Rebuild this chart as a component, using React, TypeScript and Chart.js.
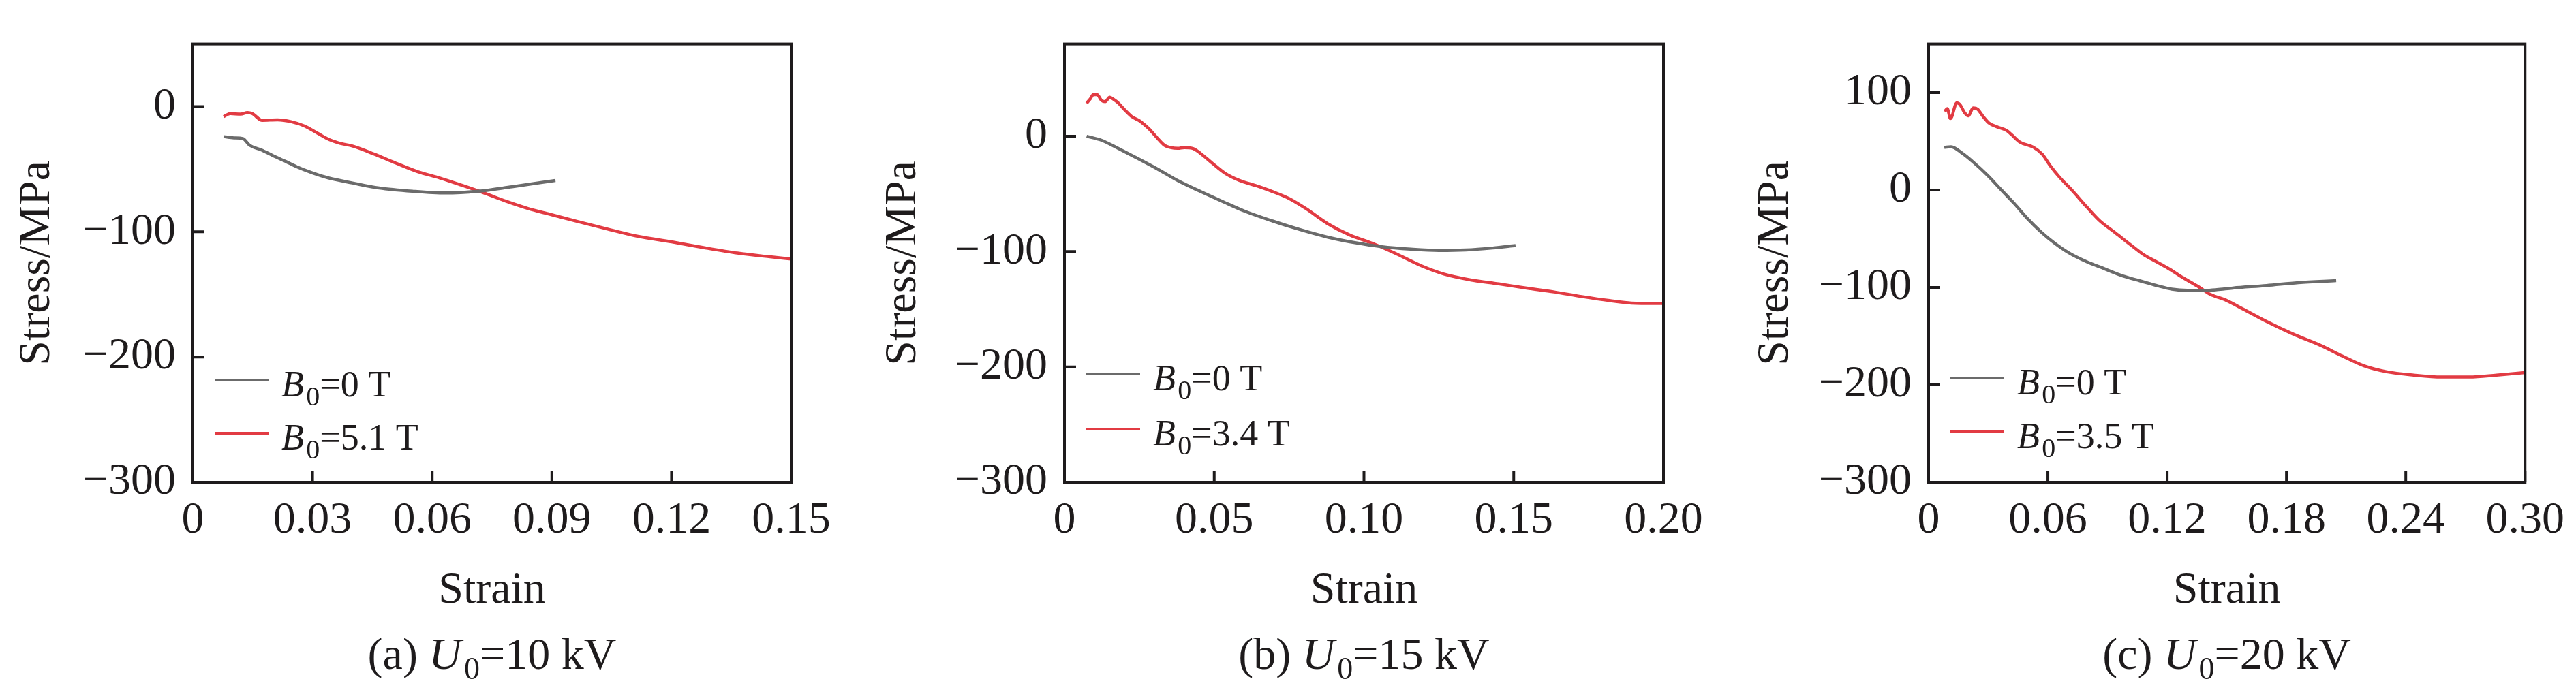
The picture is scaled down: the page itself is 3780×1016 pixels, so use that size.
import { useEffect, useRef } from 'react';
import { Chart, registerables } from 'chart.js';

Chart.register(...registerables);

// (a) U0 = 10 kV
const strainA0 = [0.0077, 0.0103, 0.0125, 0.0143, 0.0171, 0.02, 0.0234, 0.026, 0.03, 0.034, 0.04, 0.0467, 0.055, 0.0633, 0.0715, 0.08, 0.0909];
const stressA0 = [-24, -25, -25.5, -31, -34.5, -39, -44, -48, -53, -57, -61, -65, -67.6, -69, -67.6, -64, -59];
const strainA1 = [0.0077, 0.0094, 0.012, 0.0137, 0.0149, 0.0174, 0.0212, 0.0246, 0.028, 0.0314, 0.0342, 0.037, 0.04, 0.0453, 0.0508, 0.0564, 0.0619, 0.0674, 0.073, 0.0785, 0.084, 0.0895, 0.0964, 0.103, 0.1116, 0.12, 0.128, 0.1365, 0.1447, 0.15];
const stressA1 = [-8, -5.6, -6, -4.7, -5.6, -11, -10.6, -12, -15.5, -21.5, -26.4, -29.4, -31.5, -37.7, -45, -52, -57, -62.8, -69, -75.6, -81.4, -86, -91.7, -97, -103.6, -108, -112.6, -117, -120, -121.7];

// (b) U0 = 15 kV
const strainB0 = [0.0074, 0.0124, 0.0179, 0.0234, 0.0308, 0.038, 0.0455, 0.053, 0.06, 0.0695, 0.0787, 0.0879, 0.097, 0.106, 0.1156, 0.125, 0.134, 0.143, 0.1506];
const stressB0 = [0, -3.5, -10.5, -17.8, -28, -38.7, -48, -56.8, -64.8, -73.5, -81, -87.5, -92.3, -95.8, -97.9, -99, -98.6, -96.9, -94.8];
const strainB1 = [0.0074, 0.0087, 0.0096, 0.0109, 0.0124, 0.0136, 0.0151, 0.0164, 0.0179, 0.0197, 0.0225, 0.0253, 0.028, 0.0308, 0.0335, 0.0354, 0.0378, 0.04, 0.0428, 0.0455, 0.0492, 0.0538, 0.0584, 0.064, 0.0695, 0.075, 0.0806, 0.088, 0.0953, 0.1027, 0.11, 0.1193, 0.1267, 0.1359, 0.145, 0.1543, 0.1635, 0.1727, 0.182, 0.1893, 0.2];
const stressB1 = [28.6, 32.8, 36, 36, 31, 30, 33.8, 32, 29, 24, 17, 13, 7, -1, -8, -9.8, -10.5, -9.8, -10.5, -15, -23, -32.4, -38.3, -42.9, -48, -54, -62.7, -76, -85.7, -92.7, -101, -112.5, -119.5, -124.7, -128, -131.7, -135, -139, -142.5, -144.6, -145];

// (c) U0 = 20 kV
const strainC0 = [0.0079, 0.0113, 0.017, 0.0227, 0.0294, 0.0362, 0.043, 0.0498, 0.0566, 0.0634, 0.0702, 0.0793, 0.0883, 0.0974, 0.1065, 0.1155, 0.1223, 0.13, 0.139, 0.145, 0.153, 0.17, 0.186, 0.205];
const stressC0 = [44, 44.4, 37.7, 28.3, 15.7, 1, -13.6, -29.4, -43, -54.5, -64, -73.4, -80.7, -88, -93.3, -98.5, -101.7, -103, -103, -102.3, -100.6, -98, -95, -93];
const strainC1 = [0.0081, 0.0094, 0.011, 0.0142, 0.0157, 0.018, 0.02, 0.0224, 0.0247, 0.0275, 0.0303, 0.0343, 0.0394, 0.0419, 0.0459, 0.0527, 0.0572, 0.0612, 0.0657, 0.0725, 0.0793, 0.086, 0.094, 0.1019, 0.1087, 0.1144, 0.12, 0.128, 0.136, 0.1416, 0.1495, 0.158, 0.17, 0.1835, 0.197, 0.208, 0.219, 0.2305, 0.244, 0.258, 0.272, 0.2857, 0.3];
const stressC1 = [80.7, 83.6, 73.4, 89.6, 88, 79.8, 76.2, 84.3, 83, 75.3, 69, 65, 61, 56.6, 49.3, 44, 36.7, 25, 13.6, -1, -16.8, -31.4, -44, -56.6, -67, -73.4, -79.7, -90, -99.6, -107, -113, -122, -135, -148, -159.3, -170.3, -180.5, -186.6, -190, -192, -192, -190, -187.4];

const xTicksA = [0, 0.03, 0.06, 0.09, 0.12, 0.15];
const xTicksB = [0, 0.05, 0.1, 0.15, 0.2];
const xTicksC = [0, 0.06, 0.12, 0.18, 0.24, 0.3];
const yTicksAB = [-300, -200, -100, 0];
const yTicksC = [-300, -200, -100, 0, 100];

const FONT = '"Liberation Serif", "Times New Roman", serif';
const INK = '#1e1b1c';
const GRAY = '#6b6b6b';
const RED = '#e23b43';

type Part = { t: string; it?: boolean; sub?: boolean };

function rich(ctx: CanvasRenderingContext2D, parts: Part[], x: number, y: number, size: number, subSize: number, drop: number, draw: boolean) {
    let cx = x;
    for (const p of parts) {
        ctx.font = `${p.it ? 'italic ' : ''}${p.sub ? subSize : size}px ${FONT}`;
        if (draw) ctx.fillText(p.t, cx, p.sub ? y + drop : y);
        cx += ctx.measureText(p.t).width + (p.it ? size * 0.06 : 0);
    }
    return cx - x;
}

const decor = {
    id: 'decor',
    afterDraw(chart: any, _args: any, o: any) {
        const { ctx, chartArea: a, scales } = chart;
        ctx.save();
        ctx.strokeStyle = INK;
        ctx.lineWidth = 4;
        ctx.strokeRect(a.left, a.top, a.right - a.left, a.bottom - a.top);
        ctx.beginPath();
        for (const v of o.xTicks) {
            const x = scales.x.getPixelForValue(v);
            ctx.moveTo(x, a.bottom);
            ctx.lineTo(x, a.bottom - 16);
        }
        for (const v of o.yTicks) {
            const y = scales.y.getPixelForValue(v);
            ctx.moveTo(a.left, y);
            ctx.lineTo(a.left + 17, y);
        }
        ctx.stroke();

        // legend
        const rows = [
            { c: GRAY, y: o.legendY[0], v: '=0 T' },
            { c: RED, y: o.legendY[1], v: o.b1 },
        ];
        ctx.lineWidth = 4;
        for (const r of rows) {
            ctx.strokeStyle = r.c;
            ctx.beginPath();
            ctx.moveTo(a.left + 32, r.y);
            ctx.lineTo(a.left + 111, r.y);
            ctx.stroke();
            ctx.fillStyle = INK;
            ctx.textAlign = 'left';
            ctx.textBaseline = 'alphabetic';
            rich(ctx, [{ t: 'B', it: true }, { t: '0', sub: true }, { t: r.v }], a.left + 130, r.y + 24, 54, 40, 13, true);
        }

        // axis titles
        const cx = (a.left + a.right) / 2;
        ctx.fillStyle = INK;
        ctx.font = `66px ${FONT}`;
        ctx.textAlign = 'center';
        ctx.fillText('Strain', cx, 885);
        ctx.save();
        ctx.translate(a.left - o.titleGap, (a.top + a.bottom) / 2);
        ctx.rotate(-Math.PI / 2);
        ctx.fillText('Stress/MPa', 0, 0);
        ctx.restore();

        // caption
        ctx.textAlign = 'left';
        const cap: Part[] = [{ t: `(${o.letter}) ` }, { t: 'U', it: true }, { t: '0', sub: true }, { t: o.volt }];
        const w = rich(ctx, cap, 0, 0, 66, 46, 15, false);
        rich(ctx, cap, cx - w / 2, 982, 66, 46, 15, true);
        ctx.restore();
    },
};

const pts = (xs: number[], ys: number[]) => xs.map((x, i) => ({ x, y: ys[i] }));
const fmtX = (v: number) => (v === 0 ? '0' : v.toFixed(2));
const fmtY = (v: number) => (v < 0 ? '\u2212' + Math.abs(v) : String(v));

type PanelProps = {
    left: number; yWidth: number; padRight: number; titleGap: number;
    letter: string; volt: string; b1: string;
    xMax: number; xTicks: number[]; yMin: number; yMax: number; yTicks: number[];
    s0: [number[], number[]]; s1: [number[], number[]]; legendY: [number, number];
};

function Panel(p: PanelProps) {
    const canvasRef = useRef<HTMLCanvasElement>(null);

    useEffect(() => {
        const tickFont = { family: FONT, size: 66 };
        const chart = new Chart(canvasRef.current as HTMLCanvasElement, {
            type: 'line',
            data: {
                datasets: [
                    { label: 'B0=0 T', data: pts(p.s0[0], p.s0[1]), borderColor: GRAY, borderWidth: 4.5, pointRadius: 0, cubicInterpolationMode: 'monotone' },
                    { label: 'B0' + p.b1, data: pts(p.s1[0], p.s1[1]), borderColor: RED, borderWidth: 4.5, pointRadius: 0, cubicInterpolationMode: 'monotone' },
                ],
            },
            options: {
                animation: false,
                responsive: false,
                devicePixelRatio: 1,
                layout: { padding: { left: 0, right: p.padRight, top: 3, bottom: 108 } },
                plugins: {
                    legend: { display: false },
                    tooltip: { enabled: false },
                    // @ts-expect-error custom plugin options
                    decor: { xTicks: p.xTicks, yTicks: p.yTicks, legendY: p.legendY, b1: p.b1, letter: p.letter, volt: p.volt, titleGap: p.titleGap },
                },
                scales: {
                    x: {
                        type: 'linear', min: 0, max: p.xMax,
                        grid: { display: false, drawTicks: false },
                        border: { display: false },
                        afterBuildTicks: (s: any) => { s.ticks = p.xTicks.map((v) => ({ value: v })); },
                        afterFit: (s: any) => { s.height = 200; },
                        ticks: { padding: 17, maxRotation: 0, autoSkip: false, color: INK, font: tickFont, callback: (v: any) => fmtX(Number(v)) },
                    },
                    y: {
                        type: 'linear', min: p.yMin, max: p.yMax,
                        grid: { display: false, drawTicks: false },
                        border: { display: false },
                        afterBuildTicks: (s: any) => { s.ticks = p.yTicks.map((v) => ({ value: v })); },
                        afterFit: (s: any) => { s.width = p.yWidth; },
                        ticks: { padding: 25, autoSkip: false, color: INK, font: tickFont, callback: (v: any) => fmtY(Number(v)) },
                    },
                },
            },
            plugins: [decor],
        });
        return () => chart.destroy();
    }, []);

    return (
        <div style={{ position: 'absolute', left: p.left, top: 0, width: 1260, height: 1016 }}>
            <canvas ref={canvasRef} width={1260} height={1016} style={{ width: 1260, height: 1016 }} />
        </div>
    );
}

export default function App() {
    useEffect(() => { document.body.style.margin = '0'; }, []);
    return (
        <div style={{ position: 'relative', width: 3780, height: 1016, background: '#fff' }}>
            <Panel left={0} yWidth={283} padRight={99} titleGap={211} letter="a" volt="=10 kV" b1="=5.1 T"
                xMax={0.15} xTicks={xTicksA} yMin={-300} yMax={50} yTicks={yTicksAB}
                s0={[strainA0, stressA0]} s1={[strainA1, stressA1]} legendY={[558, 636]} />
            <Panel left={1260} yWidth={302} padRight={79} titleGap={219} letter="b" volt="=15 kV" b1="=3.4 T"
                xMax={0.2} xTicks={xTicksB} yMin={-300} yMax={80} yTicks={yTicksAB}
                s0={[strainB0, stressB0]} s1={[strainB1, stressB1]} legendY={[549, 630]} />
            <Panel left={2520} yWidth={310} padRight={68} titleGap={207} letter="c" volt="=20 kV" b1="=3.5 T"
                xMax={0.3} xTicks={xTicksC} yMin={-300} yMax={150} yTicks={yTicksC}
                s0={[strainC0, stressC0]} s1={[strainC1, stressC1]} legendY={[555, 634]} />
        </div>
    );
}
